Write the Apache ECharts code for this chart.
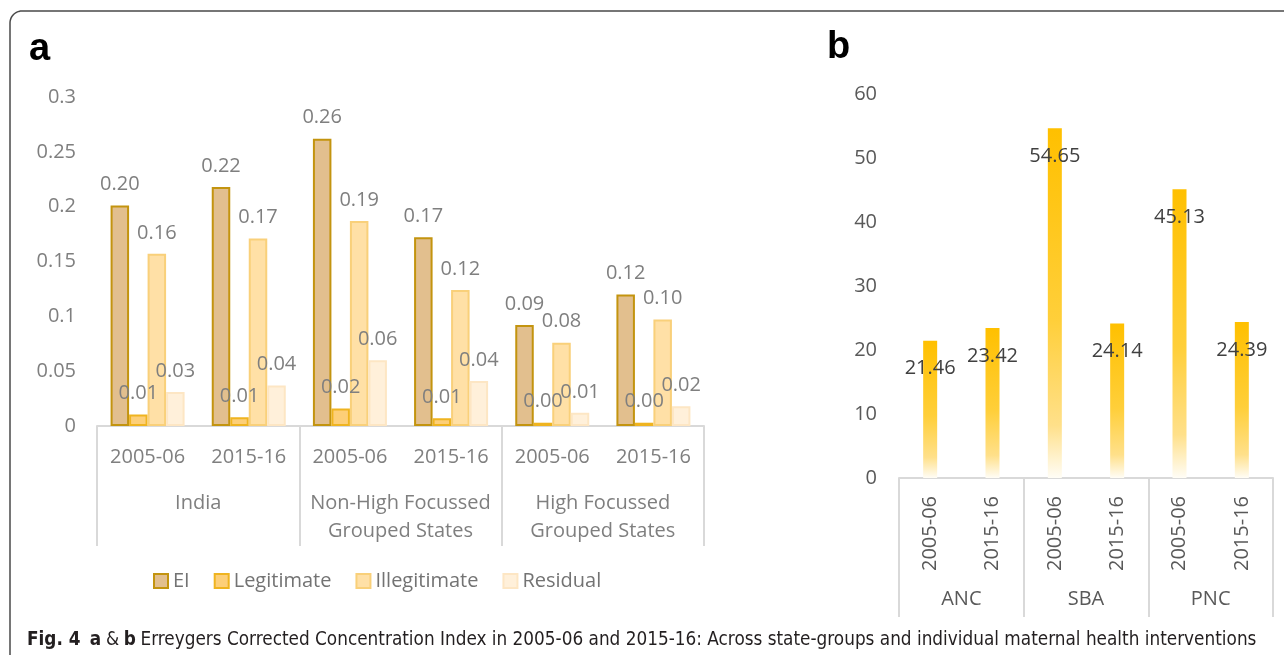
<!DOCTYPE html>
<html>
<head>
<meta charset="utf-8">
<script src="https://cdn.jsdelivr.net/npm/echarts@6/dist/echarts.min.js"></script>
<style>
html,body{margin:0;padding:0;background:#fff;overflow:hidden;}
#chart{width:1284px;height:655px;}
</style>
</head>
<body>
<div id="chart"></div>
<script>
// ---- Panel a data ----
const yearsA = ['2005-06','2015-16','2005-06','2015-16','2005-06','2015-16'];
const groupsA = ['India','Non-High Focussed\nGrouped States','High Focussed\nGrouped States'];
const seriesNamesA = ['EI','Legitimate','Illegitimate','Residual'];
const eiVals = [0.201, 0.218, 0.262, 0.172, 0.092, 0.120];
const legitVals = [0.0105, 0.008, 0.016, 0.007, 0.003, 0.003];
const illegitVals = [0.157, 0.171, 0.187, 0.124, 0.076, 0.097];
const residualVals = [0.031, 0.037, 0.060, 0.041, 0.012, 0.018];
const yTicksA = {min: 0, max: 0.3, interval: 0.05};

// ---- Panel b data ----
const yearsB = ['2005-06','2015-16','2005-06','2015-16','2005-06','2015-16'];
const groupsB = ['ANC','SBA','PNC'];
const valsB = [21.46, 23.42, 54.65, 24.14, 45.13, 24.39];
const yTicksB = {min: 0, max: 60, interval: 10};

const FONT = '"Open Sans", "Noto Sans", sans-serif';
const CAPFONT = '"Liberation Sans Narrow", "DejaVu Sans Condensed", "Liberation Sans", sans-serif';
const fillsA = ['#e2bf8e', '#fdcf78', '#ffe0a6', '#fff0da'];
const bordersA = ['#c3940f', '#efb420', '#f9d07a', '#fde6c4'];
const valsA = [eiVals, legitVals, illegitVals, residualVals];

// frame: left and top edges with a rounded top-left corner
const framePts = [[10, 720]];
for (let k = 0; k <= 12; k++) {
  const a = Math.PI + (Math.PI / 2) * (k / 12);
  framePts.push([22 + 12 * Math.cos(a), 23 + 12 * Math.sin(a)]);
}
framePts.push([1400, 11]);

const chart = echarts.init(document.getElementById('chart'), null, {renderer: 'canvas'});

const seriesA = seriesNamesA.map((name, i) => ({
  name: name,
  type: 'bar',
  xAxisIndex: 0,
  yAxisIndex: 0,
  data: valsA[i],
  barWidth: 18.5,
  barGap: '0%',
  itemStyle: {color: fillsA[i], borderColor: bordersA[i], borderWidth: 2},
  label: {
    show: true,
    position: 'top',
    distance: 11,
    color: '#7f7f7f',
    fontSize: 20,
    fontFamily: FONT,
    formatter: p => p.value.toFixed(2)
  },
  z: 2
}));

const option = {
  backgroundColor: '#ffffff',
  animation: false,
  textStyle: {fontFamily: FONT},
  title: [{
    left: 22,
    top: 626,
    text: '{b|Fig. 4}  {b|a} {n|&} {b|b} {n|Erreygers Corrected Concentration Index in 2005-06 and 2015-16: Across state-groups and individual maternal health interventions}',
    textStyle: {
      rich: {
        b: {fontFamily: CAPFONT, fontWeight: 'bold', fontSize: 18.8, color: '#231f20'},
        n: {fontFamily: CAPFONT, fontWeight: 'normal', fontSize: 18.8, color: '#231f20'}
      }
    }
  }],
  graphic: [
    {type: 'polyline', shape: {points: framePts}, style: {fill: null, stroke: '#4a4a4a', lineWidth: 1.5}, silent: true, z: -10},
    {type: 'text', left: 29, top: 31, style: {text: 'a', fontSize: 38, fontWeight: 'bold', fontFamily: '"Liberation Sans", Arial, sans-serif', fill: '#000'}},
    {type: 'text', left: 827, top: 29, style: {text: 'b', fontSize: 38, fontWeight: 'bold', fontFamily: '"Liberation Sans", Arial, sans-serif', fill: '#000'}}
  ],
  legend: {
    data: seriesNamesA,
    left: 148,
    top: 566,
    icon: 'rect',
    itemWidth: 14,
    itemHeight: 14,
    itemGap: 24,
    textStyle: {color: '#737373', fontSize: 20, fontFamily: FONT}
  },
  grid: [
    {left: 97, right: 580, top: 97, bottom: 229, containLabel: false},
    {left: 899, right: 11, top: 94, bottom: 177, containLabel: false}
  ],
  xAxis: [
    {
      type: 'category', gridIndex: 0, data: yearsA, position: 'bottom',
      axisLine: {show: false}, axisTick: {show: false},
      axisLabel: {color: '#7f7f7f', fontSize: 20, fontFamily: FONT, margin: 21, interval: 0}
    },
    {
      type: 'category', gridIndex: 0, data: groupsA, position: 'bottom',
      axisLine: {show: true, lineStyle: {color: '#d9d9d9', width: 2}},
      axisTick: {show: true, length: 120, lineStyle: {color: '#d9d9d9', width: 2}},
      axisLabel: {color: '#7f7f7f', fontSize: 20, fontFamily: FONT, margin: 63, lineHeight: 28, interval: 0}
    },
    {
      type: 'category', gridIndex: 1, data: yearsB, position: 'bottom',
      axisLine: {show: false}, axisTick: {show: false},
      axisLabel: {color: '#595959', fontSize: 20, fontFamily: FONT, margin: 18, rotate: 90, interval: 0}
    },
    {
      type: 'category', gridIndex: 1, data: groupsB, position: 'bottom',
      axisLine: {show: true, lineStyle: {color: '#d9d9d9', width: 2}},
      axisTick: {show: true, length: 139, lineStyle: {color: '#d9d9d9', width: 2}},
      axisLabel: {color: '#595959', fontSize: 20, fontFamily: FONT, margin: 111, interval: 0}
    }
  ],
  yAxis: [
    {
      type: 'value', gridIndex: 0, min: yTicksA.min, max: yTicksA.max, interval: yTicksA.interval,
      splitLine: {show: false}, axisLine: {show: false}, axisTick: {show: false},
      axisLabel: {color: '#7f7f7f', fontSize: 20, fontFamily: FONT, margin: 21}
    },
    {
      type: 'value', gridIndex: 1, min: yTicksB.min, max: yTicksB.max, interval: yTicksB.interval,
      splitLine: {show: false}, axisLine: {show: false}, axisTick: {show: false},
      axisLabel: {color: '#595959', fontSize: 20, fontFamily: FONT, margin: 22}
    }
  ],
  series: seriesA.concat([{
    name: 'b',
    type: 'bar',
    xAxisIndex: 2,
    yAxisIndex: 1,
    data: valsB,
    barWidth: 14,
    itemStyle: {
      color: new echarts.graphic.LinearGradient(0, 0, 0, 1, [
        {offset: 0, color: '#ffc000'},
        {offset: 0.55, color: '#ffcf3a'},
        {offset: 0.85, color: '#ffe08a'},
        {offset: 1, color: '#fffdf6'}
      ])
    },
    label: {
      show: true,
      position: 'insideTop',
      distance: 18,
      color: '#404040',
      fontSize: 20,
      fontFamily: FONT,
      formatter: p => p.value.toFixed(2)
    }
  }])
};

chart.setOption(option);
</script>
</body>
</html>
